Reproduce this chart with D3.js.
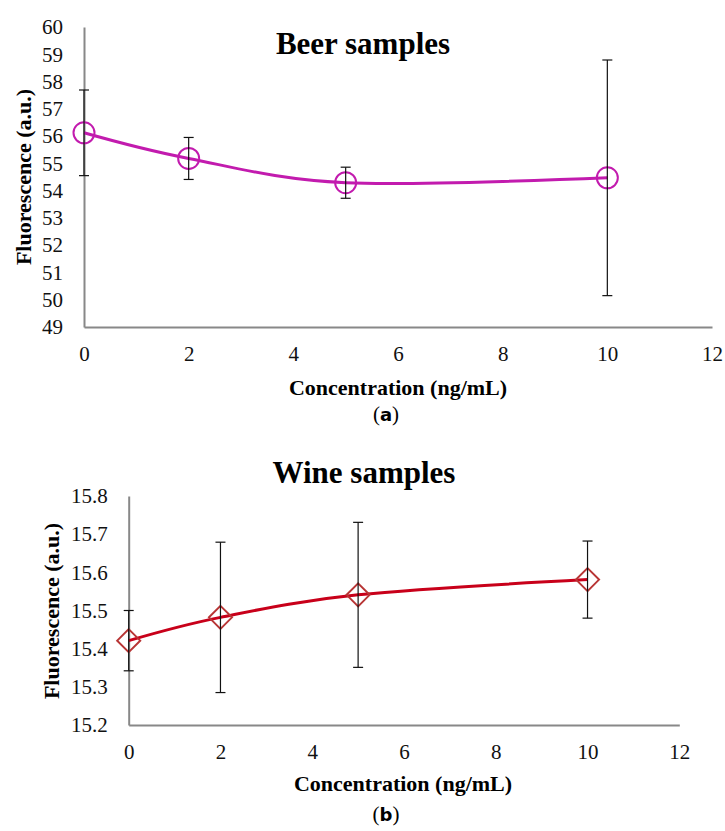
<!DOCTYPE html>
<html lang="en">
<head>
  <meta charset="UTF-8">
  <title>Beer / Wine samples</title>
  <style>
    body { margin: 0; background: #fff; }
    svg { display: block; font-family: "Liberation Serif", "Times New Roman", serif; }
    .tick text { font-size: 21px; fill: #111; }
  </style>
</head>
<body>
  <svg width="725" height="831"></svg>

  <script src="https://d3js.org/d3.v7.min.js"></script>
  <script>
    // x値（濃度 ng/mL）
    const concentrations = [0, 2, 5, 10];
    const xTicks = [0, 2, 4, 6, 8, 10, 12];

    // (a) Beer samples
    const beerValues = [56.12, 55.18, 54.29, 54.47];
    const beerErrors = [1.57, 0.77, 0.57, 4.32];
    const beerYTicks = d3.range(49, 61, 1);

    // (b) Wine samples
    const wineValues = [15.421, 15.482, 15.541, 15.581];
    const wineErrors = [0.079, 0.197, 0.19, 0.101];
    const wineYTicks = [15.2, 15.3, 15.4, 15.5, 15.6, 15.7, 15.8];

    const svg = d3.select("svg");

    function drawPanel(opt) {
      const x = d3.scaleLinear().domain([0, 12]).range([opt.left, opt.right]);
      const y = d3.scaleLinear().domain(opt.yDomain).range([opt.bottom, opt.top]);
      const g = svg.append("g");

      // 軸
      const xAxis = g.append("g")
        .attr("transform", `translate(0,${opt.bottom})`)
        .call(d3.axisBottom(x).tickValues(xTicks).tickSize(0).tickPadding(19));
      const yAxis = g.append("g")
        .attr("transform", `translate(${opt.left},0)`)
        .call(d3.axisLeft(y).tickValues(opt.yTicks).tickSize(0).tickPadding(21).tickFormat(opt.fmt));
      [xAxis, yAxis].forEach(a => {
        a.attr("font-family", null).attr("font-size", null);
        a.select(".domain").attr("stroke", "#888").attr("stroke-width", 2);
      });

      // タイトル・ラベル
      g.append("text")
        .attr("x", opt.titleX).attr("y", opt.titleY)
        .attr("text-anchor", "middle").attr("font-size", 31).attr("font-weight", "bold")
        .text(opt.title);
      g.append("text")
        .attr("x", opt.xLabelX).attr("y", opt.xLabelY)
        .attr("text-anchor", "middle").attr("font-size", 22).attr("font-weight", "bold")
        .text("Concentration (ng/mL)");
      g.append("text")
        .attr("transform", `translate(${opt.yLabelX},${opt.yLabelY}) rotate(-90)`)
        .attr("text-anchor", "middle").attr("font-size", 22).attr("font-weight", "bold")
        .text("Fluorescence (a.u.)");
      const cap = g.append("text")
        .attr("x", 386).attr("y", opt.capY)
        .attr("text-anchor", "middle").attr("font-size", 21);
      cap.append("tspan").text("(");
      cap.append("tspan").attr("font-weight", "bold").attr("font-family", "'DejaVu Sans', sans-serif").attr("font-size", 18).text(opt.cap);
      cap.append("tspan").text(")");

      const pts = concentrations.map((c, i) => ({ x: c, y: opt.values[i], e: opt.errors[i] }));

      // 平滑線
      const line = d3.line()
        .x(d => x(d.x))
        .y(d => y(d.y))
        .curve(d3.curveCatmullRom.alpha(0));
      g.append("path")
        .datum(pts)
        .attr("fill", "none")
        .attr("stroke", opt.lineColor)
        .attr("stroke-width", 3)
        .attr("d", line);

      // マーカー
      if (opt.marker === "circle") {
        g.selectAll("circle.mk").data(pts).join("circle")
          .attr("class", "mk")
          .attr("cx", d => x(d.x)).attr("cy", d => y(d.y)).attr("r", 10.5)
          .attr("fill", "none").attr("stroke", opt.markerColor).attr("stroke-width", 2);
      } else {
        const s = 11.5;
        g.selectAll("path.mk").data(pts).join("path")
          .attr("class", "mk")
          .attr("d", d => {
            const cx = x(d.x), cy = y(d.y);
            return `M${cx},${cy - s}L${cx + s},${cy}L${cx},${cy + s}L${cx - s},${cy}Z`;
          })
          .attr("fill", "none").attr("stroke", opt.markerColor).attr("stroke-width", 2);
      }

      // 誤差棒
      const eb = g.selectAll("g.err").data(pts).join("g").attr("class", "err")
        .attr("stroke", "#111").attr("stroke-width", 1.2);
      eb.append("line")
        .attr("x1", d => x(d.x)).attr("x2", d => x(d.x))
        .attr("y1", d => y(d.y + d.e)).attr("y2", d => y(d.y - d.e));
      [1, -1].forEach(sgn => {
        eb.append("line")
          .attr("x1", d => x(d.x) - 5).attr("x2", d => x(d.x) + 5)
          .attr("y1", d => y(d.y + sgn * d.e)).attr("y2", d => y(d.y + sgn * d.e));
      });
    }

    drawPanel({
      left: 84, right: 712, top: 27, bottom: 327,
      yDomain: [49, 60], yTicks: beerYTicks, fmt: d3.format("d"),
      values: beerValues, errors: beerErrors,
      title: "Beer samples", titleX: 363, titleY: 54,
      xLabelX: 398, xLabelY: 395,
      yLabelX: 31, yLabelY: 177,
      cap: "a", capY: 421,
      lineColor: "#C21BAE", markerColor: "#C21BAE", marker: "circle"
    });

    drawPanel({
      left: 128.7, right: 679.3, top: 496, bottom: 725,
      yDomain: [15.2, 15.8], yTicks: wineYTicks, fmt: d3.format(".1f"),
      values: wineValues, errors: wineErrors,
      title: "Wine samples", titleX: 364, titleY: 483,
      xLabelX: 403, xLabelY: 791,
      yLabelX: 59, yLabelY: 611,
      cap: "b", capY: 821,
      lineColor: "#C8001A", markerColor: "#B83535", marker: "diamond"
    });
  </script>
</body>
</html>
